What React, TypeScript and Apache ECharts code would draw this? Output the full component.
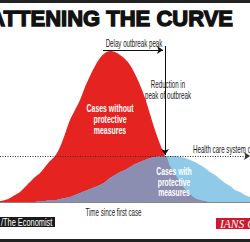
import React, { useEffect, useRef } from "react";
import * as echarts from "echarts";

// Horizontal position (time since first case, arbitrary units)
const timeSteps = [
  0, 5, 10, 15, 20, 25, 30, 35, 40, 45, 50, 55, 60, 65, 70, 75, 80, 85, 90, 95,
  100, 105, 110, 115, 120, 125, 130, 135, 140, 145, 150, 155, 160, 165, 170, 175,
  180, 185, 190, 195, 200, 205, 210, 215, 220, 225, 230, 235, 240, 245, 250,
];
// Cases without protective measures
const casesWithout = [
  1, 2, 4, 7, 10, 15, 20, 25, 29, 35, 41, 46, 55, 68, 82, 92, 102, 115, 126, 136,
  144, 149, 151, 150, 147, 143, 137, 128, 117, 104, 88, 72, 58, 46, 36, 28,
  20, 13, 8, 4, 2, 1, 0, 0, 0, 0, 0, 0, 0, 0, 0,
];
// Cases with protective measures
const casesWith = [
  0, 0, 0, 0, 0, 0, 0, 0, 1, 1, 2, 2, 3, 4, 5, 7, 9, 11, 13, 15,
  17, 20, 24, 27, 30, 32, 35, 38, 40, 42, 44, 45, 46, 46, 46, 46,
  45, 44, 42, 40, 37, 34, 30, 27, 23, 19, 16, 12, 10, 7, 5,
];
const healthCareCapacity = 46;

const RED = "#e52421";
const BLUE = "#8fcbe8";
const GREY = "#8b8eb0";
const NARROW = "Liberation Sans, Arial, sans-serif";

function txt(text: string, x: number, y: number, opts: any = {}) {
  return {
    type: "text",
    x,
    y,
    scaleX: opts.scaleX ?? 0.62,
    z: 100,
    silent: true,
    style: {
      text,
      fill: opts.fill ?? "#222",
      font: `${opts.weight ?? "normal"} ${opts.size ?? 10}px ${opts.family ?? NARROW}`,
      textAlign: opts.align ?? "center",
      textVerticalAlign: "middle",
      ...(opts.style || {}),
    },
  };
}

export default function App() {
  const ref = useRef<HTMLDivElement>(null);
  useEffect(() => {
    if (!ref.current) return;
    const chart = echarts.init(ref.current, null, { renderer: "svg" });
    const redData = timeSteps.map((t, i) => [t, casesWithout[i]]);
    const blueData = timeSteps.map((t, i) => [t, casesWith[i]]);
    const overlapData = timeSteps.map((t, i) => [t, Math.min(casesWithout[i], casesWith[i])]);
    const area = (name: string, data: any, color: string, z: number, extra: any = {}) => ({
      name,
      type: "line",
      data,
      smooth: 0.4,
      symbol: "none",
      z,
      silent: true,
      lineStyle: { width: 0 },
      areaStyle: { color, opacity: 1 },
      ...extra,
    });
    chart.setOption({
      animation: false,
      backgroundColor: "#ffffff",
      grid: { left: 0, right: 0, top: 42, bottom: 40 },
      xAxis: {
        type: "value",
        min: 0,
        max: 250,
        axisLine: { show: true, lineStyle: { color: "#5e5e5e", width: 1.5 } },
        axisTick: { show: false },
        axisLabel: { show: false },
        splitLine: { show: false },
      },
      yAxis: {
        type: "value",
        min: 0,
        max: 160,
        show: false,
        splitLine: { show: false },
      },
      series: [
        area("Cases without protective measures", redData, RED, 2),
        area("Cases with protective measures", blueData, BLUE, 3),
        area("Overlap", overlapData, GREY, 4, {
          markLine: {
            silent: true,
            symbol: ["none", "arrow"],
            symbolSize: 6,
            label: { show: false },
            lineStyle: { color: "#111", width: 1, type: "solid" },
            data: [
              {
                yAxis: healthCareCapacity,
                symbol: "none",
                lineStyle: { type: [1, 1.5], color: "#333", width: 1 },
              },
              [{ coord: [103, 152] }, { coord: [163, 152] }],
              [{ coord: [165, 156] }, { coord: [165, 47] }],
            ],
          },
        }),
      ],
      graphic: [
        { type: "rect", shape: { x: 0, y: 0, width: 250, height: 3 }, style: { fill: "#222" }, z: 100 },
        { type: "rect", shape: { x: 0, y: 239, width: 250, height: 3 }, style: { fill: "#222" }, z: 100 },
        {
          type: "text",
          x: 233,
          y: 18,
          z: 100,
          style: {
            text: "FLATTENING THE CURVE",
            fill: "#111",
            font: "bold 22px Liberation Sans, Arial, sans-serif",
            textAlign: "right",
            textVerticalAlign: "middle",
            stroke: "#111",
            lineWidth: 1.3,
          },
        },
        txt("Delay outbreak peak", 134, 43),
        txt("Reduction in", 168, 84),
        txt("peak of outbreak", 168, 95),
        txt("Health care system capacity", 193, 149, { align: "left" }),
        txt("Time since first case", 113.5, 212),
        txt("Cases without", 110, 108, { weight: "bold", size: 10.5, fill: "#fff", scaleX: 0.66 }),
        txt("protective", 110, 119.5, { weight: "bold", size: 10.5, fill: "#fff", scaleX: 0.66 }),
        txt("measures", 110, 130.5, { weight: "bold", size: 10.5, fill: "#fff", scaleX: 0.66 }),
        txt("Cases with", 174, 171, { weight: "bold", size: 10, fill: "#fff", scaleX: 0.68 }),
        txt("protective", 174, 182, { weight: "bold", size: 10, fill: "#fff", scaleX: 0.68 }),
        txt("measures", 174, 192.5, { weight: "bold", size: 10, fill: "#fff", scaleX: 0.68 }),
        { type: "rect", shape: { x: 0, y: 217, width: 55, height: 10 }, style: { fill: "#1a1a1a" }, z: 99 },
        txt("/The Economist", 1, 222.3, { align: "left", fill: "#fff", scaleX: 0.74 }),
        { type: "rect", shape: { x: 216, y: 218, width: 34, height: 11 }, style: { fill: "#d0182c" }, z: 99 },
        txt("IANS Graphics", 220, 223.5, {
          align: "left",
          fill: "#fff",
          scaleX: 1,
          size: 11.5,
          weight: "italic",
          family: "Liberation Serif, serif",
        }),
      ],
    });
    return () => chart.dispose();
  }, []);
  return (
    <div
      ref={ref}
      style={{ position: "absolute", left: 0, top: 0, width: 250, height: 242 }}
    />
  );
}
